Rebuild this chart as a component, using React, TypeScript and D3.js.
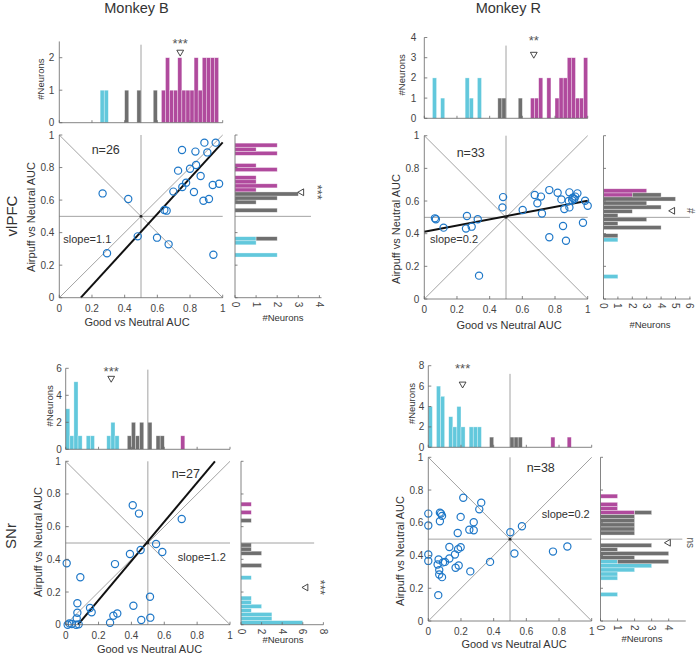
import * as d3 from 'd3';

type Pt = [number, number];
type Bin = [number, number]; // [lower bin edge, #neurons]

const BIN_W = 0.025;

const CYAN = '#62c8dc';
const GRAY = '#6f6f6f';
const MAGENTA = '#b04a9d';
const BLUE = '#1f78c8';
const AXIS = '#666';
const REF = '#8c8c8c';
const TEXT = '#333';
const FONT = '"Liberation Sans", Arial, Helvetica, sans-serif';

// ---- Monkey B, vlPFC ----
const pfcB_points: Pt[] = [
  [0.265, 0.641], [0.422, 0.607], [0.292, 0.273], [0.48, 0.377], [0.598, 0.369],
  [0.669, 0.328], [0.643, 0.539], [0.657, 0.535], [0.698, 0.652], [0.727, 0.781],
  [0.751, 0.908], [0.753, 0.68], [0.776, 0.707], [0.8, 0.793], [0.824, 0.65],
  [0.833, 0.898], [0.837, 0.816], [0.865, 0.748], [0.882, 0.596], [0.888, 0.953],
  [0.906, 0.893], [0.916, 0.607], [0.939, 0.693], [0.943, 0.264], [0.978, 0.7],
  [0.957, 0.953],
];
const pfcB_topCyan: Bin[] = [[0.25, 1], [0.275, 1]];
const pfcB_topGray: Bin[] = [[0.4, 1], [0.475, 1], [0.575, 1]];
const pfcB_topMagenta: Bin[] = [
  [0.625, 1], [0.65, 2], [0.675, 1], [0.7, 1], [0.725, 2], [0.75, 1], [0.775, 1],
  [0.8, 1], [0.825, 2], [0.85, 1], [0.875, 2], [0.9, 2], [0.925, 2], [0.95, 2],
];
const pfcB_rightCyan: Bin[] = [[0.25, 2], [0.325, 1], [0.35, 1]];
const pfcB_rightGray: Bin[] = [[0.35, 1], [0.525, 2], [0.575, 1], [0.6, 2], [0.625, 3]];
const pfcB_rightMagenta: Bin[] = [
  [0.65, 1], [0.675, 2], [0.7, 1], [0.725, 1], [0.775, 2], [0.8, 1], [0.875, 2], [0.9, 1], [0.925, 2],
];

// ---- Monkey R, vlPFC ----
const pfcR_points: Pt[] = [
  [0.065, 0.494], [0.071, 0.488], [0.118, 0.437], [0.255, 0.431], [0.261, 0.508],
  [0.29, 0.443], [0.327, 0.488], [0.335, 0.143], [0.478, 0.561], [0.482, 0.624],
  [0.602, 0.545], [0.676, 0.637], [0.692, 0.586], [0.714, 0.627], [0.72, 0.524],
  [0.765, 0.667], [0.765, 0.378], [0.816, 0.651], [0.839, 0.61], [0.849, 0.447],
  [0.857, 0.551], [0.867, 0.357], [0.884, 0.6], [0.888, 0.653], [0.888, 0.561],
  [0.908, 0.62], [0.918, 0.612], [0.924, 0.627], [0.937, 0.647], [0.971, 0.467],
  [0.984, 0.602], [1.0, 0.571], [0.905, 0.605],
];
const pfcR_topCyan: Bin[] = [[0.05, 2], [0.1, 1], [0.25, 2], [0.275, 1], [0.325, 2]];
const pfcR_topGray: Bin[] = [[0.45, 1], [0.475, 1], [0.575, 1]];
const pfcR_topMagenta: Bin[] = [
  [0.65, 1], [0.675, 1], [0.7, 2], [0.75, 2], [0.8, 1], [0.825, 2], [0.85, 2],
  [0.875, 3], [0.9, 3], [0.925, 1], [0.95, 1], [0.975, 3],
];
const pfcR_rightCyan: Bin[] = [[0.125, 1], [0.35, 1]];
const pfcR_rightGray: Bin[] = [
  [0.375, 1], [0.425, 4], [0.45, 1], [0.475, 3], [0.5, 1], [0.525, 2], [0.55, 4],
  [0.575, 3], [0.6, 5], [0.625, 2],
];
const pfcR_rightMagenta: Bin[] = [[0.625, 2], [0.65, 3]];

// ---- Monkey B, SNr ----
const snrB_points: Pt[] = [
  [0.006, 0.376], [0.012, 0.0], [0.022, 0.008], [0.037, 0.004], [0.063, 0.0],
  [0.067, 0.039], [0.071, 0.073], [0.071, 0.131], [0.079, 0.002], [0.089, 0.29],
  [0.148, 0.102], [0.158, 0.076], [0.27, 0.012], [0.29, 0.055], [0.3, 0.371],
  [0.314, 0.069], [0.391, 0.433], [0.408, 0.731], [0.412, 0.116], [0.446, 0.68],
  [0.456, 0.457], [0.46, 0.029], [0.513, 0.171], [0.515, 0.043], [0.55, 0.494],
  [0.588, 0.445], [0.706, 0.647],
];
const snrB_topCyan: Bin[] = [
  [0, 3], [0.025, 1], [0.05, 5], [0.075, 1], [0.125, 1], [0.15, 1], [0.25, 1], [0.275, 2], [0.3, 1],
];
const snrB_topGray: Bin[] = [[0.375, 1], [0.4, 2], [0.425, 1], [0.45, 2], [0.5, 2], [0.55, 1], [0.575, 1]];
const snrB_topMagenta: Bin[] = [[0.7, 1]];
const snrB_rightCyan: Bin[] = [
  [0, 6], [0.025, 3], [0.05, 3], [0.075, 1], [0.1, 2], [0.125, 1], [0.15, 1], [0.275, 1],
];
const snrB_rightGray: Bin[] = [[0.35, 2], [0.425, 2], [0.45, 1], [0.475, 1], [0.625, 1]];
const snrB_rightMagenta: Bin[] = [[0.675, 1], [0.725, 1]];

// ---- Monkey R, SNr ----
const snrR_points: Pt[] = [
  [0, 0.656], [0, 0.583], [0, 0.406], [0, 0.367], [0.061, 0.158], [0.057, 0.345],
  [0.063, 0.376], [0.067, 0.311], [0.067, 0.284], [0.084, 0.268], [0.071, 0.662],
  [0.078, 0.656], [0.084, 0.642], [0.071, 0.609], [0.102, 0.361], [0.129, 0.452],
  [0.129, 0.382], [0.163, 0.406], [0.167, 0.325], [0.18, 0.538], [0.182, 0.439],
  [0.186, 0.339], [0.198, 0.451], [0.198, 0.636], [0.214, 0.753], [0.251, 0.558],
  [0.257, 0.303], [0.278, 0.603], [0.278, 0.554], [0.312, 0.682], [0.324, 0.723],
  [0.378, 0.361], [0.502, 0.542], [0.527, 0.412], [0.573, 0.579], [0.763, 0.424],
  [0.851, 0.455], [0.09, 0.358],
];
const snrR_topCyan: Bin[] = [
  [0, 4], [0.05, 6], [0.075, 5], [0.125, 3], [0.15, 2], [0.175, 4], [0.2, 2], [0.25, 2], [0.275, 2], [0.3, 2],
];
const snrR_topGray: Bin[] = [[0.375, 1], [0.5, 1], [0.525, 1], [0.55, 1]];
const snrR_topMagenta: Bin[] = [[0.75, 1], [0.85, 1]];
const snrR_rightCyan: Bin[] = [[0.15, 1], [0.25, 1], [0.275, 1], [0.3, 2], [0.325, 3], [0.35, 1]];
const snrR_rightGray: Bin[] = [
  [0.35, 3], [0.375, 2], [0.4, 4], [0.425, 1], [0.45, 3], [0.525, 2], [0.55, 2],
  [0.575, 2], [0.6, 2], [0.625, 2], [0.65, 1],
];
const snrR_rightMagenta: Bin[] = [[0.65, 2], [0.675, 1], [0.7, 1], [0.75, 1]];

// fitted slope / intercept, mean markers and test labels
const fits = [
  { slope: 1.1, intercept: -0.145, draw: true },
  { slope: 0.19, intercept: 0.412, draw: true },
  { slope: 1.2, intercept: -0.09, draw: true },
  { slope: 0.2, intercept: 0.4, draw: false },
];
const meanGood = [0.74, 0.67, 0.277, 0.21];
const meanAirpuff = [0.648, 0.54, 0.228, 0.478];
const sigGood = ['***', '**', '***', '***'];
const sigAirpuff = ['***', '#', '***', 'ns'];

const scatterTicks = [0, 0.2, 0.4, 0.6, 0.8, 1];

interface Layout {
  x0: number; x1: number; yTop: number; yBot: number;
  topBase: number; topUnit: number; topMax: number; topTicks: number[]; topLine: number;
  topTri: number; topStar: number; topLabelDx: number; topTickDx: number;
  rx0: number; rUnit: number; rMax: number; rTicks: number[]; rLine: number;
  rTri: number; rStar: number; rLabel: Pt;
  nPos: Pt; slopePos: Pt; yLabelY: number; xLabelX: number; xLabelDy: number;
}

const layouts: Layout[] = [
  {
    x0: 59.3, x1: 222.7, yTop: 135, yBot: 297.7,
    topBase: 122.7, topUnit: 32.5, topMax: 2.5, topTicks: [0, 1, 2], topLine: 2.4,
    topTri: 2.17, topStar: 2.5, topLabelDx: 15, topTickDx: 5,
    rx0: 235, rUnit: 21.1, rMax: 4.1, rTicks: [0, 1, 2, 3, 4], rLine: 3.6,
    rTri: 3.16, rStar: 4.03, rLabel: [283, 321],
    nPos: [0.198, 0.883], slopePos: [0.024, 0.334], yLabelY: 217, xLabelX: 137, xLabelDy: 28.5,
  },
  {
    x0: 424.3, x1: 587.7, yTop: 135.7, yBot: 299,
    topBase: 118.3, topUnit: 20.2, topMax: 4, topTicks: [0, 1, 2, 3, 4], topLine: 3.6,
    topTri: 3.17, topStar: 3.96, topLabelDx: 19, topTickDx: 8,
    rx0: 603.5, rUnit: 14.4, rMax: 6.05, rTicks: [0, 1, 2, 3, 4, 5, 6], rLine: 6,
    rTri: 4.8, rStar: 6.02, rLabel: [650, 328],
    nPos: [0.198, 0.871], slopePos: [0.035, 0.341], yLabelY: 229, xLabelX: 509, xLabelDy: 30,
  },
  {
    x0: 65.7, x1: 230, yTop: 461.3, yBot: 624.7,
    topBase: 449.3, topUnit: 13.5, topMax: 6, topTicks: [0, 2, 4, 6], topLine: 5.9,
    topTri: 5.26, topStar: 5.95, topLabelDx: 13, topTickDx: 4,
    rx0: 241, rUnit: 10.3, rMax: 8, rTicks: [0, 2, 4, 6, 8], rLine: 7.1,
    rTri: 6.3, rStar: 7.96, rLabel: [283, 643],
    nPos: [0.645, 0.898], slopePos: [0.682, 0.392], yLabelY: 542, xLabelX: 149.5, xLabelDy: 28.3,
  },
  {
    x0: 428.3, x1: 591.7, yTop: 457.3, yBot: 621,
    topBase: 447.3, topUnit: 10.2, topMax: 8, topTicks: [0, 2, 4, 6, 8], topLine: 7.2,
    topTri: 6.2, topStar: 7.97, topLabelDx: 13, topTickDx: 4,
    rx0: 600.5, rUnit: 17.05, rMax: 5, rTicks: [0, 1, 2, 3, 4], rLine: 4.8,
    rTri: 3.98, rStar: 5.25, rLabel: [642, 642],
    nPos: [0.602, 0.908], slopePos: [0.694, 0.627], yLabelY: 551, xLabelX: 514, xLabelDy: 27,
  },
];

const panelData = [
  { points: pfcB_points, top: [pfcB_topCyan, pfcB_topMagenta, pfcB_topGray], right: [pfcB_rightCyan, pfcB_rightMagenta, pfcB_rightGray] },
  { points: pfcR_points, top: [pfcR_topCyan, pfcR_topMagenta, pfcR_topGray], right: [pfcR_rightCyan, pfcR_rightMagenta, pfcR_rightGray] },
  { points: snrB_points, top: [snrB_topCyan, snrB_topMagenta, snrB_topGray], right: [snrB_rightCyan, snrB_rightMagenta, snrB_rightGray] },
  { points: snrR_points, top: [snrR_topCyan, snrR_topMagenta, snrR_topGray], right: [snrR_rightCyan, snrR_rightMagenta, snrR_rightGray] },
];

type Bar = { lo: number; c0: number; c1: number; fill: string };

// cyan / magenta sit on the axis, gray is stacked on top of them
function stackBars([cyan, magenta, gray]: Bin[][]): Bar[] {
  const key = (lo: number) => Math.round(lo / BIN_W);
  const base = new Map<number, number>();
  const out: Bar[] = [];
  const add = (bins: Bin[], fill: string, stack: boolean) => {
    bins.forEach(([lo, c]) => {
      const b = stack ? base.get(key(lo)) ?? 0 : 0;
      out.push({ lo, c0: b, c1: b + c, fill });
      if (!stack) base.set(key(lo), (base.get(key(lo)) ?? 0) + c);
    });
  };
  add(cyan, CYAN, false);
  add(magenta, MAGENTA, false);
  add(gray, GRAY, true);
  return out;
}

const fmt = (d: number) => (d === 0 || d === 1 ? String(d) : d.toFixed(1));
const triangle = d3.symbol().type(d3.symbolTriangle).size(20);

function Panel({ i }: { i: number }) {
  const L = layouts[i];
  const D = panelData[i];
  const fit = fits[i];
  const x = d3.scaleLinear().domain([0, 1]).range([L.x0, L.x1]);
  const y = d3.scaleLinear().domain([0, 1]).range([L.yBot, L.yTop]);
  const hy = d3.scaleLinear().domain([0, 1]).range([L.topBase, L.topBase - L.topUnit]);
  const hx = d3.scaleLinear().domain([0, 1]).range([L.rx0, L.rx0 + L.rUnit]);
  const topBars = stackBars(D.top);
  const rightBars = stackBars(D.right);

  const fx0 = Math.max(0, -fit.intercept / fit.slope);
  const fx1 = Math.min(1, (1 - fit.intercept) / fit.slope);
  const fitPath = d3.line<number>()
    .x((d) => x(d))
    .y((d) => y(fit.slope * d + fit.intercept))([fx0, fx1]);

  const line = (x1: number, y1: number, x2: number, y2: number, stroke = REF, w = 0.8) => (
    <line x1={x1} y1={y1} x2={x2} y2={y2} stroke={stroke} strokeWidth={w} />
  );
  const star = sigAirpuff[i] === '***';

  return (
    <g fontFamily={FONT}>
      {/* ---- top histogram ---- */}
      {topBars.map((b, k) => (
        <rect key={`t${k}`} x={x(b.lo)} width={x(b.lo + BIN_W) - x(b.lo)} y={hy(b.c1)} height={hy(b.c0) - hy(b.c1)}
          fill={b.fill} stroke="#fff" strokeOpacity={0.55} strokeWidth={0.6} />
      ))}
      {line(x(0.5), hy(0), x(0.5), hy(L.topLine))}
      {line(L.x0, hy(0), L.x0, hy(L.topMax), AXIS)}
      {line(L.x0, hy(0), L.x1, hy(0), AXIS)}
      {L.topTicks.map((t) => (
        <g key={`tt${t}`}>
          {line(L.x0, hy(t), L.x0 + 3, hy(t), AXIS)}
          <text x={L.x0 - L.topTickDx} y={hy(t)} dy="0.35em" textAnchor="end" fontSize={10} fill="#444">{t}</text>
        </g>
      ))}
      {scatterTicks.map((t) => <g key={`tx${t}`}>{line(x(t), hy(0), x(t), hy(0) - 2.5, AXIS)}</g>)}
      <text transform={`translate(${L.x0 - L.topLabelDx},${(hy(0) + hy(L.topMax)) / 2 - 3}) rotate(-90)`}
        textAnchor="middle" fontSize={9.5} fill={TEXT}>#Neurons</text>
      <path d={triangle() ?? ''} transform={`translate(${x(meanGood[i])},${hy(L.topTri)}) rotate(180)`}
        fill="#fff" stroke="#333" strokeWidth={0.9} />
      <text x={x(meanGood[i])} y={hy(L.topStar) + 7} textAnchor="middle" fontSize={13} fill="#555">{sigGood[i]}</text>

      {/* ---- right histogram ---- */}
      {rightBars.map((b, k) => (
        <rect key={`r${k}`} x={hx(b.c0)} width={hx(b.c1) - hx(b.c0)} y={y(b.lo + BIN_W)} height={y(b.lo) - y(b.lo + BIN_W)}
          fill={b.fill} stroke="#fff" strokeOpacity={0.55} strokeWidth={0.6} />
      ))}
      {line(hx(0), y(0.5), hx(L.rLine), y(0.5))}
      {line(hx(0), y(0), hx(0), y(1), AXIS)}
      {line(hx(0), y(0), hx(L.rMax), y(0), AXIS)}
      {scatterTicks.map((t) => <g key={`ry${t}`}>{line(hx(0), y(t), hx(0) + 2.5, y(t), AXIS)}</g>)}
      {L.rTicks.map((t) => (
        <g key={`rt${t}`}>
          {line(hx(t), y(0), hx(t), y(0) - 2.5, AXIS)}
          <text transform={`translate(${hx(t)},${y(0) + 4}) rotate(90)`} dy="0.35em" fontSize={10} fill="#444">{t}</text>
        </g>
      ))}
      <text x={L.rLabel[0]} y={L.rLabel[1]} textAnchor="middle" fontSize={9.5} fill={TEXT}>#Neurons</text>
      <path d={triangle() ?? ''} transform={`translate(${hx(L.rTri)},${y(meanAirpuff[i])}) rotate(-90)`}
        fill="#fff" stroke="#333" strokeWidth={0.9} />
      <text transform={`translate(${hx(L.rStar)},${y(meanAirpuff[i])}) rotate(90)`}
        dy={star ? 7 : 3.5} textAnchor="middle" fontSize={star ? 13 : 10} fill="#555">
        {sigAirpuff[i]}
      </text>

      {/* ---- scatter ---- */}
      {line(x(0), y(0), x(1), y(1))}
      {line(x(0), y(1), x(1), y(0))}
      {line(x(0.5), y(0), x(0.5), y(1))}
      {line(x(0), y(0.5), x(1), y(0.5))}
      {fit.draw && <path d={fitPath ?? ''} stroke="#111" strokeWidth={2} fill="none" />}
      <circle cx={x(0.5)} cy={y(0.5)} r={1.4} fill="#222" />
      {D.points.map(([px, py], k) => (
        <circle key={`p${k}`} cx={x(px)} cy={y(py)} r={3.6} fill="none" stroke={BLUE} strokeWidth={1.2} />
      ))}
      {line(L.x0, L.yBot, L.x0, L.yTop, AXIS)}
      {line(L.x0, L.yBot, L.x1, L.yBot, AXIS)}
      {scatterTicks.map((t) => (
        <g key={`s${t}`}>
          {line(x(t), L.yBot, x(t), L.yBot - 3, AXIS)}
          {line(L.x0, y(t), L.x0 + 3, y(t), AXIS)}
          <text x={x(t)} y={L.yBot + 14} textAnchor="middle" fontSize={10} fill="#444">{fmt(t)}</text>
          <text x={L.x0 - 5} y={y(t)} dy="0.35em" textAnchor="end" fontSize={10} fill="#444">{fmt(t)}</text>
        </g>
      ))}
      <text x={L.xLabelX} y={L.yBot + L.xLabelDy} textAnchor="middle" fontSize={11} fill={TEXT}>Good vs Neutral AUC</text>
      <text transform={`translate(${L.x0 - 24},${L.yLabelY}) rotate(-90)`} textAnchor="middle" fontSize={11} fill={TEXT}>
        Airpuff vs Neutral AUC
      </text>
      <text x={x(L.nPos[0])} y={y(L.nPos[1])} fontSize={12.5} fill={TEXT}>n={D.points.length}</text>
      <text x={x(L.slopePos[0])} y={y(L.slopePos[1])} fontSize={11} fill={TEXT}>slope={fit.slope.toFixed(1)}</text>
    </g>
  );
}

export default function App() {
  return (
    <svg width={697} height={655} style={{ position: 'absolute', left: 0, top: 0, background: '#fff' }}>
      <text x={136.5} y={12.5} textAnchor="middle" fontSize={14.5} fontFamily={FONT} fill={TEXT}>Monkey B</text>
      <text x={508.3} y={12.5} textAnchor="middle" fontSize={14.5} fontFamily={FONT} fill={TEXT}>Monkey R</text>
      <text transform="translate(17,216) rotate(-90)" textAnchor="middle" fontSize={15} fontFamily={FONT} fill={TEXT}>vlPFC</text>
      <text transform="translate(16,536) rotate(-90)" textAnchor="middle" fontSize={15} fontFamily={FONT} fill={TEXT}>SNr</text>
      {layouts.map((_, i) => <Panel key={i} i={i} />)}
    </svg>
  );
}
